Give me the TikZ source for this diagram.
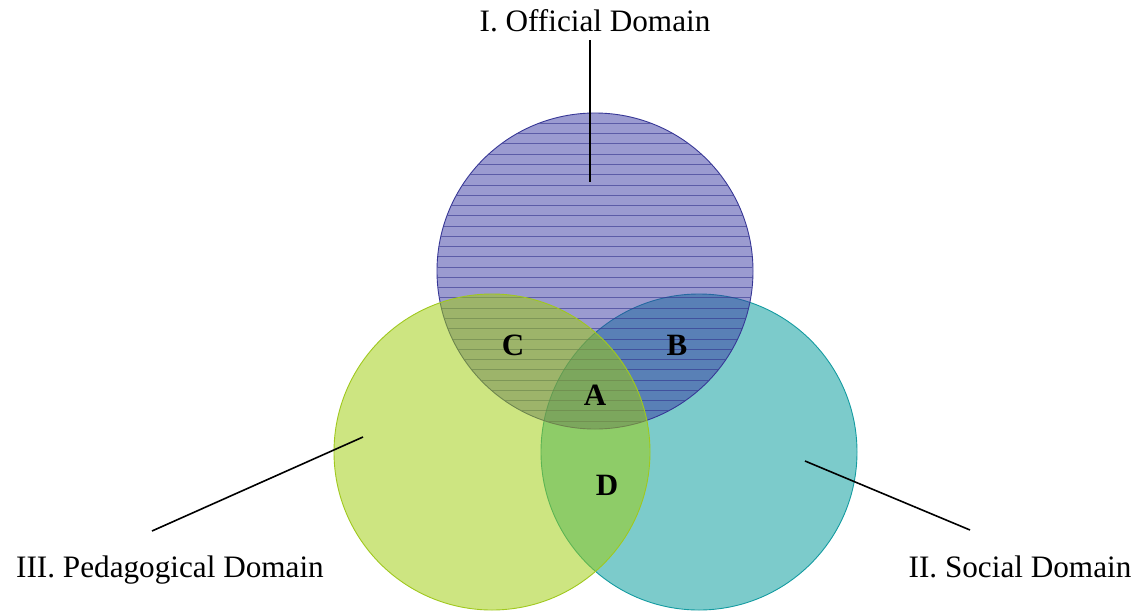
\documentclass[tikz,border=0pt]{standalone}
\usepackage{fontspec}
\setmainfont{Liberation Serif}
\begin{document}
\begin{tikzpicture}[x=1pt,y=-1pt,
  venn/.style={circle, minimum size=316pt, inner sep=0pt, line width=0.9pt},
  lbl/.style={font=\fontsize{31.2}{36}\selectfont, inner sep=0pt, anchor=base},
  let/.style={font=\fontsize{31}{36}\selectfont\bfseries, inner sep=0pt},
  callout/.style={line width=1.6pt, black}]
\definecolor{leftc}{RGB}{159,205,13}
\definecolor{leftd}{RGB}{160,200,30}
\definecolor{rightc}{RGB}{17,161,161}
\definecolor{rightd}{RGB}{20,155,160}
\definecolor{topc}{RGB}{55,55,161}
\definecolor{topd}{RGB}{55,55,150}
\definecolor{hatch}{RGB}{50,50,140}
\useasboundingbox (0,0) rectangle (1135,611);
% right circle
\node[venn, draw=rightd, fill=rightc, fill opacity=0.55] (social) at (699,452) {};
% top circle with hatching
\node[venn, draw=topd, fill=topc, fill opacity=0.5] (official) at (595,271) {};
\begin{scope}
  \clip (595,271) circle (157.5pt);
  \foreach \k in {0,...,30} {
    \draw[hatch, line width=0.8pt, opacity=0.6] (430,123.3+10.27*\k) -- (760,123.3+10.27*\k);
  }
\end{scope}
% left circle
\node[venn, draw=leftd, fill=leftc, fill opacity=0.52] (pedagogical) at (492,452) {};
% labels
\node[lbl] (offlabel) at (595,31.7) {I. Official Domain};
\node[lbl] (pedlabel) at (170,577) {III. Pedagogical Domain};
\node[lbl] (soclabel) at (1020,577) {II. Social Domain};
% callout ends
\coordinate (offA) at (590,40);
\coordinate (offB) at (590,182);
\coordinate (pedA) at (152,531);
\coordinate (pedB) at (363,437);
\coordinate (socA) at (805,461);
\coordinate (socB) at (970,530);
\draw[callout] (offA) -- (offB);
\draw[callout] (pedA) -- (pedB);
\draw[callout] (socA) -- (socB);
% region letters
\node[let] (C) at (513,345) {C};
\node[let] (B) at (677,345) {B};
\node[let] (A) at (595,395) {A};
\node[let] (D) at (607,485) {D};
\end{tikzpicture}
\end{document}
